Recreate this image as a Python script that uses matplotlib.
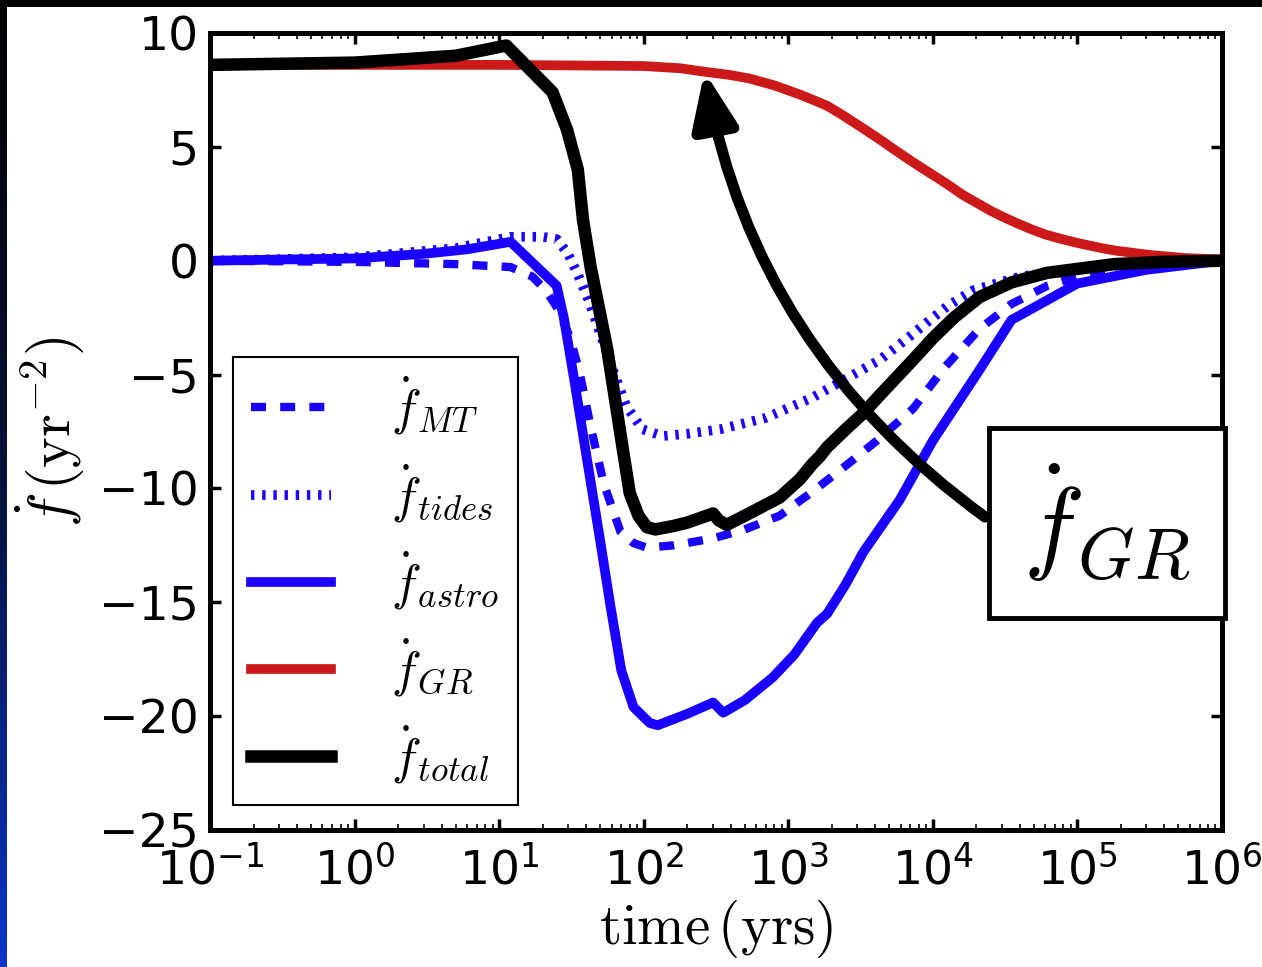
import numpy as np
import matplotlib
matplotlib.use("Agg")
import matplotlib.pyplot as plt
from matplotlib.font_manager import FontProperties
from matplotlib.patches import Rectangle
from matplotlib.colors import LinearSegmentedColormap

# values (time in yrs, fdot in yr^-2)
t_gr = [0.1, 1, 10, 100, 180, 263, 400, 540, 800, 1200, 1500, 1860, 2300, 2800, 3500, 4470,
        5500, 7000, 8500, 10700, 13000, 16000, 20000, 25000, 30000, 38000, 48000, 60000,
        78000, 1e5, 1.4e5, 1.8e5, 3.2e5, 5.5e5, 1e6]
f_gr = [8.6, 8.6, 8.6, 8.55, 8.45, 8.3, 8.15, 8.0, 7.7, 7.3, 7.05, 6.8, 6.45, 6.1, 5.7, 5.25,
        4.85, 4.4, 4.05, 3.65, 3.3, 2.9, 2.55, 2.2, 1.95, 1.65, 1.38, 1.15, 0.95, 0.78, 0.58,
        0.45, 0.25, 0.12, 0.05]

t_total = [0.1, 1, 5, 11.2, 23.4, 29.5, 35, 38, 43, 56, 69, 80, 92, 105, 120, 160, 200, 302,
           330, 375, 500, 870, 1200, 1480, 1650, 1850, 2500, 3300, 4300, 7300, 10000, 14000,
           21000, 35000, 62000, 1.8e5, 4e5, 1e6]
f_total = [8.6, 8.7, 9.0, 9.45, 7.4, 5.75, 4.0, 1.8, -0.3, -3.9, -7.6, -10.2, -11.2, -11.7,
           -11.8, -11.65, -11.5, -11.1, -11.4, -11.6, -11.2, -10.4, -9.6, -8.9, -8.6, -8.2,
           -7.4, -6.7, -5.9, -4.35, -3.4, -2.5, -1.6, -0.95, -0.53, -0.15, -0.05, 0.0]

t_astro = [0.1, 0.3, 1, 3, 6, 12, 25, 28, 33, 40, 50, 59, 70, 85, 110, 125, 200, 302, 355,
           500, 780, 1100, 1580, 1860, 2500, 3300, 5900, 10000, 21000, 35000, 1e5, 3e5, 1e6]
f_astro = [0.0, 0.05, 0.1, 0.3, 0.5, 0.83, -1.1, -2.5, -5.2, -8.5, -12.3, -15.2, -18.0,
           -19.6, -20.3, -20.4, -19.9, -19.4, -19.85, -19.3, -18.3, -17.3, -15.9, -15.5,
           -14.2, -12.8, -10.5, -7.9, -4.8, -2.6, -1.0, -0.4, 0.0]

t_mt = [0.1, 1, 5, 12, 17, 21, 26, 31, 36, 43, 53, 69, 85, 105, 160, 300, 500, 870, 1500,
        2500, 4100, 7300, 12000, 21000, 35000, 62000, 1e5, 2e5, 4e5, 1e6]
f_mt = [0.0, -0.05, -0.15, -0.28, -0.7, -1.3, -2.2, -3.4, -4.9, -7.3, -9.8, -11.9, -12.4,
        -12.6, -12.5, -12.2, -11.8, -11.2, -10.1, -9.0, -7.9, -6.5, -4.7, -3.0, -1.9, -1.1,
        -0.7, -0.3, -0.1, 0.0]

t_tides = [0.1, 1, 5, 12, 20, 25, 30, 35, 42, 50, 62, 76, 98, 135, 200, 340, 700, 1480,
           4300, 7000, 10000, 12600, 19000, 40000, 1e5, 3e5, 1e6]
f_tides = [0.0, 0.15, 0.55, 1.05, 1.05, 0.95, 0.3, -0.6, -1.8, -3.2, -4.9, -6.4, -7.4, -7.7,
           -7.6, -7.4, -6.9, -6.0, -4.35, -3.3, -2.5, -2.0, -1.3, -0.7, -0.35, -0.1, 0.0]

labels = [r'$\dot{f}_{MT}$', r'$\dot{f}_{tides}$', r'$\dot{f}_{astro}$',
          r'$\dot{f}_{GR}$', r'$\dot{f}_{total}$']

fig = plt.figure(figsize=(12.62, 9.67), dpi=100)
fig.patch.set_facecolor('white')

# slide background bits: black top strip and dark-to-blue left strip
fig.patches.append(Rectangle((0, 1 - 7 / 967), 1, 7 / 967, transform=fig.transFigure,
                             facecolor='black', edgecolor='none', zorder=0))
bax = fig.add_axes([0, 0, 7 / 1262, 1])
grad = np.linspace(0, 1, 256).reshape(-1, 1)
cm_strip = LinearSegmentedColormap.from_list('strip', ['#0a35c8', '#06123a', '#000000'])
bax.imshow(grad, aspect='auto', cmap=cm_strip, origin='lower')
bax.set_axis_off()

ax = fig.add_axes([210 / 1262, 137 / 967, 1012 / 1262, 797 / 967])

kw = dict(solid_joinstyle='round', dash_joinstyle='round')
ax.plot(t_mt, f_mt, color='#1a00ff', lw=6, linestyle=(0, (1.8, 1.7)), label=labels[0], **kw)
ax.plot(t_tides, f_tides, color='#1a00ff', lw=7, linestyle=(0, (0.35, 0.8)), label=labels[1])
ax.plot(t_astro, f_astro, color='#1a00ff', lw=7, label=labels[2], **kw)
ax.plot(t_gr, f_gr, color='#cc1a1a', lw=7, label=labels[3], **kw)
ax.plot(t_total, f_total, color='black', lw=9, label=labels[4], **kw)

ax.set_xscale('log')
ax.set_xlim(0.1, 1e6)
ax.set_ylim(-25, 10)
ax.set_yticks([-25, -20, -15, -10, -5, 0, 5, 10])

for s in ax.spines.values():
    s.set_linewidth(3.6)
ax.tick_params(which='both', direction='in', top=True, right=True)
ax.tick_params(which='major', length=8, width=2.5, labelsize=34, pad=8)
ax.tick_params(axis='x', which='major', pad=12)
ax.tick_params(which='minor', length=4, width=1.2)

ax.set_xlabel(r'$\mathrm{time\,(yrs)}$', fontsize=41, math_fontfamily='cm')
ax.set_ylabel(r'$\dot{f}\,(\mathrm{yr}^{-2})$', fontsize=42, math_fontfamily='cm')
ax.xaxis.set_label_coords(0.5, -0.085)
ax.yaxis.set_label_coords(-0.123, 0.5)

leg = ax.legend(loc='lower left', bbox_to_anchor=(0.0227, 0.0314), borderaxespad=0,
                prop=FontProperties(size=36, math_fontfamily='cm'), fancybox=False,
                edgecolor='black', framealpha=1, handlelength=1.6, labelspacing=0.5,
                borderpad=0.37, handletextpad=1.2)
leg.get_frame().set_linewidth(1.5)

# boxed label and the curved arrow pointing at the GR curve
fig.text(1107 / 1262, 1 - 523 / 967, r'$\dot{f}_{GR}$', fontsize=74, math_fontfamily='cm',
         ha='center', va='center', zorder=5,
         bbox=dict(boxstyle='square,pad=0.33', facecolor='white', edgecolor='black', lw=3.5))
ax.annotate('', xy=(263, 8.3), xycoords='data',
            xytext=(985, 967 - 517), textcoords='figure pixels',
            arrowprops=dict(arrowstyle='-|>,head_length=1.1,head_width=0.45',
                            mutation_scale=30, lw=8, color='black', shrinkA=0, shrinkB=0,
                            connectionstyle='arc3,rad=-0.2'))

fig.savefig('out.png', dpi=100, facecolor='white')
